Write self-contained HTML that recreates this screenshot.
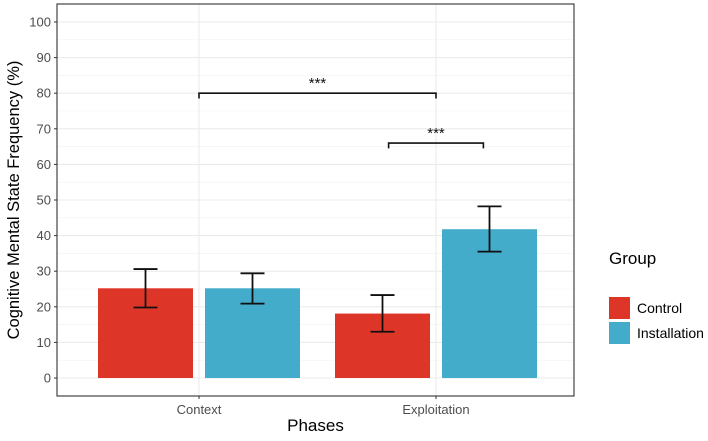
<!DOCTYPE html>
<html><head><meta charset="utf-8"><style>body{margin:0;background:#fff}svg{font-family:"Liberation Sans",sans-serif}</style></head><body>
<svg id="c" width="708" height="436"></svg>
<script>
const categories=["Context","Exploitation"];
const groups=["Control","Installation"];
const colors=["#DE3529","#43ACCA"];
const means=[[25.2,25.2],[18.1,41.8]];
const lows=[[19.8,20.9],[13.0,35.5]];
const highs=[[30.6,29.4],[23.3,48.2]];
const yTicks=[0,10,20,30,40,50,60,70,80,90,100];
const bracketStart=[0,0.8];
const bracketEnd=[1,1.2];
const bracketY=[80,66];
const NS="http://www.w3.org/2000/svg",svg=document.getElementById("c");
function mk(t,a,p){const e=document.createElementNS(NS,t);for(const k in a)e.setAttribute(k,a[k]);(p||svg).appendChild(e);return e;}
const L=57,R=574,T=4,B=396;
const y=v=>378-v*3.56;
const xc=i=>199+i*237;
const bx=(i,g)=>xc(i)+(g===0?-53.5:53.5);
const bw=95;
mk("rect",{x:L,y:T,width:R-L,height:B-T,fill:"#fff"});
for(let v=5;v<100;v+=10){const l=mk("line",{x1:L,x2:R,y1:y(v),y2:y(v),stroke:"#F2F2F2","stroke-width":0.6});}
yTicks.forEach(v=>{const l=mk("line",{x1:L,x2:R,y1:y(v),y2:y(v),stroke:"#EBEBEB","stroke-width":1.1});
const t=mk("text",{x:L-6,y:y(v)+4.5,"text-anchor":"end","font-size":13,fill:"#4D4D4D"});t.textContent=v;
mk("line",{x1:L-3,x2:L,y1:y(v),y2:y(v),stroke:"#333"});});
categories.forEach((c,i)=>{mk("line",{x1:xc(i),x2:xc(i),y1:T,y2:B,stroke:"#EBEBEB","stroke-width":1.1});
mk("line",{x1:xc(i),x2:xc(i),y1:B,y2:B+3,stroke:"#333"});
const t=mk("text",{x:xc(i),y:B+18,"text-anchor":"middle","font-size":13,fill:"#4D4D4D"});t.textContent=c;
groups.forEach((g,j)=>{const r=mk("rect",{x:bx(i,j)-bw/2,y:y(means[i][j]),width:bw,height:y(0)-y(means[i][j]),fill:colors[j]});
const e=mk("path",{d:`M${bx(i,j)-12},${y(highs[i][j])}H${bx(i,j)+12}M${bx(i,j)},${y(highs[i][j])}V${y(lows[i][j])}M${bx(i,j)-12},${y(lows[i][j])}H${bx(i,j)+12}`,stroke:"#111","stroke-width":1.8,fill:"none"});});});
bracketY.forEach((by,k)=>{const xa=xc(bracketStart[k]),xb=xc(bracketEnd[k]);
const p=mk("path",{d:`M${xa},${y(by-1.5)}V${y(by)}H${xb}V${y(by-1.5)}`,stroke:"#111","stroke-width":1.6,fill:"none"});
const t=mk("text",{x:(xa+xb)/2,y:y(by)-5,"text-anchor":"middle","font-size":15,fill:"#111"});t.textContent="***";});
mk("rect",{x:L,y:T,width:R-L,height:B-T,fill:"none",stroke:"#333","stroke-width":1.1});
let t=mk("text",{x:(L+R)/2,y:431,"text-anchor":"middle","font-size":17,fill:"#000"});t.textContent="Phases";
t=mk("text",{x:0,y:0,"text-anchor":"middle","font-size":16.5,fill:"#000",transform:`translate(19,${(T+B)/2}) rotate(-90)`});t.textContent="Cognitive Mental State Frequency (%)";
t=mk("text",{x:609,y:264,"font-size":17,fill:"#000"});t.textContent="Group";
groups.forEach((g,j)=>{const yy=297+j*25;const r=mk("rect",{x:609,y:yy,width:21,height:22,fill:colors[j]});
const s=mk("text",{x:637,y:yy+16,"font-size":14,fill:"#000"});s.textContent=g;});
</script></body></html>
